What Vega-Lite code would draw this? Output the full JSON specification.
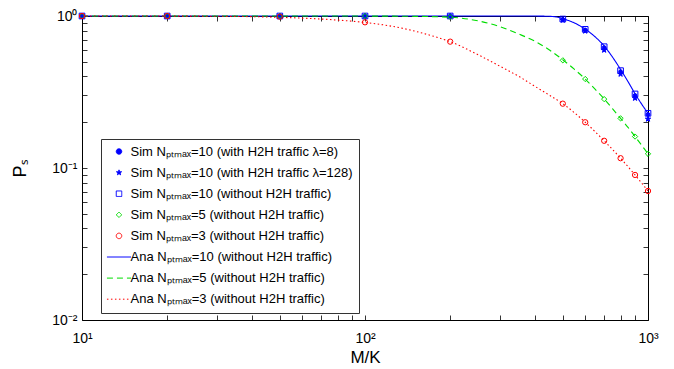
{
  "$schema": "https://vega.github.io/schema/vega-lite/v6.json",
  "width": 566,
  "height": 304,
  "autosize": {"type": "none"},
  "padding": {"left": 82, "top": 16, "right": 26, "bottom": 49},
  "background": "white",
  "config": {
    "view": {"stroke": "black", "strokeWidth": 1},
    "font": "Liberation Sans",
    "axis": {"labelFont": "Liberation Sans", "titleFont": "Liberation Sans", "labelColor": "black", "titleColor": "black", "tickColor": "black", "tickWidth": 0.8, "grid": false, "titleFontWeight": "normal"}
  },
  "datasets": {
    "ana": [
      {"x": 10, "y": 1, "s": "Ana Nₚₜₘₐₓ=10 (without H2H traffic)"},
      {"x": 50, "y": 1, "s": "Ana Nₚₜₘₐₓ=10 (without H2H traffic)"},
      {"x": 100, "y": 1, "s": "Ana Nₚₜₘₐₓ=10 (without H2H traffic)"},
      {"x": 200, "y": 1, "s": "Ana Nₚₜₘₐₓ=10 (without H2H traffic)"},
      {"x": 300, "y": 1, "s": "Ana Nₚₜₘₐₓ=10 (without H2H traffic)"},
      {"x": 400, "y": 0.999, "s": "Ana Nₚₜₘₐₓ=10 (without H2H traffic)"},
      {"x": 450, "y": 0.995, "s": "Ana Nₚₜₘₐₓ=10 (without H2H traffic)"},
      {"x": 480, "y": 0.982, "s": "Ana Nₚₜₘₐₓ=10 (without H2H traffic)"},
      {"x": 500, "y": 0.96, "s": "Ana Nₚₜₘₐₓ=10 (without H2H traffic)"},
      {"x": 550, "y": 0.9, "s": "Ana Nₚₜₘₐₓ=10 (without H2H traffic)"},
      {"x": 600, "y": 0.82, "s": "Ana Nₚₜₘₐₓ=10 (without H2H traffic)"},
      {"x": 650, "y": 0.73, "s": "Ana Nₚₜₘₐₓ=10 (without H2H traffic)"},
      {"x": 700, "y": 0.635, "s": "Ana Nₚₜₘₐₓ=10 (without H2H traffic)"},
      {"x": 750, "y": 0.535, "s": "Ana Nₚₜₘₐₓ=10 (without H2H traffic)"},
      {"x": 800, "y": 0.445, "s": "Ana Nₚₜₘₐₓ=10 (without H2H traffic)"},
      {"x": 850, "y": 0.37, "s": "Ana Nₚₜₘₐₓ=10 (without H2H traffic)"},
      {"x": 900, "y": 0.308, "s": "Ana Nₚₜₘₐₓ=10 (without H2H traffic)"},
      {"x": 950, "y": 0.263, "s": "Ana Nₚₜₘₐₓ=10 (without H2H traffic)"},
      {"x": 1000, "y": 0.229, "s": "Ana Nₚₜₘₐₓ=10 (without H2H traffic)"},
      {"x": 10, "y": 1, "s": "Ana Nₚₜₘₐₓ=5 (without H2H traffic)"},
      {"x": 50, "y": 1, "s": "Ana Nₚₜₘₐₓ=5 (without H2H traffic)"},
      {"x": 100, "y": 0.999, "s": "Ana Nₚₜₘₐₓ=5 (without H2H traffic)"},
      {"x": 150, "y": 0.995, "s": "Ana Nₚₜₘₐₓ=5 (without H2H traffic)"},
      {"x": 200, "y": 0.982, "s": "Ana Nₚₜₘₐₓ=5 (without H2H traffic)"},
      {"x": 250, "y": 0.93, "s": "Ana Nₚₜₘₐₓ=5 (without H2H traffic)"},
      {"x": 300, "y": 0.85, "s": "Ana Nₚₜₘₐₓ=5 (without H2H traffic)"},
      {"x": 350, "y": 0.76, "s": "Ana Nₚₜₘₐₓ=5 (without H2H traffic)"},
      {"x": 400, "y": 0.68, "s": "Ana Nₚₜₘₐₓ=5 (without H2H traffic)"},
      {"x": 450, "y": 0.595, "s": "Ana Nₚₜₘₐₓ=5 (without H2H traffic)"},
      {"x": 500, "y": 0.515, "s": "Ana Nₚₜₘₐₓ=5 (without H2H traffic)"},
      {"x": 550, "y": 0.445, "s": "Ana Nₚₜₘₐₓ=5 (without H2H traffic)"},
      {"x": 600, "y": 0.385, "s": "Ana Nₚₜₘₐₓ=5 (without H2H traffic)"},
      {"x": 650, "y": 0.33, "s": "Ana Nₚₜₘₐₓ=5 (without H2H traffic)"},
      {"x": 700, "y": 0.285, "s": "Ana Nₚₜₘₐₓ=5 (without H2H traffic)"},
      {"x": 750, "y": 0.245, "s": "Ana Nₚₜₘₐₓ=5 (without H2H traffic)"},
      {"x": 800, "y": 0.212, "s": "Ana Nₚₜₘₐₓ=5 (without H2H traffic)"},
      {"x": 850, "y": 0.185, "s": "Ana Nₚₜₘₐₓ=5 (without H2H traffic)"},
      {"x": 900, "y": 0.161, "s": "Ana Nₚₜₘₐₓ=5 (without H2H traffic)"},
      {"x": 950, "y": 0.141, "s": "Ana Nₚₜₘₐₓ=5 (without H2H traffic)"},
      {"x": 1000, "y": 0.124, "s": "Ana Nₚₜₘₐₓ=5 (without H2H traffic)"},
      {"x": 10, "y": 1, "s": "Ana Nₚₜₘₐₓ=3 (without H2H traffic)"},
      {"x": 20, "y": 0.999, "s": "Ana Nₚₜₘₐₓ=3 (without H2H traffic)"},
      {"x": 30, "y": 0.996, "s": "Ana Nₚₜₘₐₓ=3 (without H2H traffic)"},
      {"x": 40, "y": 0.99, "s": "Ana Nₚₜₘₐₓ=3 (without H2H traffic)"},
      {"x": 50, "y": 0.98, "s": "Ana Nₚₜₘₐₓ=3 (without H2H traffic)"},
      {"x": 60, "y": 0.968, "s": "Ana Nₚₜₘₐₓ=3 (without H2H traffic)"},
      {"x": 70, "y": 0.955, "s": "Ana Nₚₜₘₐₓ=3 (without H2H traffic)"},
      {"x": 80, "y": 0.94, "s": "Ana Nₚₜₘₐₓ=3 (without H2H traffic)"},
      {"x": 90, "y": 0.924, "s": "Ana Nₚₜₘₐₓ=3 (without H2H traffic)"},
      {"x": 100, "y": 0.906, "s": "Ana Nₚₜₘₐₓ=3 (without H2H traffic)"},
      {"x": 125, "y": 0.855, "s": "Ana Nₚₜₘₐₓ=3 (without H2H traffic)"},
      {"x": 150, "y": 0.795, "s": "Ana Nₚₜₘₐₓ=3 (without H2H traffic)"},
      {"x": 175, "y": 0.735, "s": "Ana Nₚₜₘₐₓ=3 (without H2H traffic)"},
      {"x": 200, "y": 0.678, "s": "Ana Nₚₜₘₐₓ=3 (without H2H traffic)"},
      {"x": 250, "y": 0.558, "s": "Ana Nₚₜₘₐₓ=3 (without H2H traffic)"},
      {"x": 300, "y": 0.467, "s": "Ana Nₚₜₘₐₓ=3 (without H2H traffic)"},
      {"x": 350, "y": 0.4, "s": "Ana Nₚₜₘₐₓ=3 (without H2H traffic)"},
      {"x": 400, "y": 0.343, "s": "Ana Nₚₜₘₐₓ=3 (without H2H traffic)"},
      {"x": 450, "y": 0.3, "s": "Ana Nₚₜₘₐₓ=3 (without H2H traffic)"},
      {"x": 500, "y": 0.265, "s": "Ana Nₚₜₘₐₓ=3 (without H2H traffic)"},
      {"x": 600, "y": 0.2, "s": "Ana Nₚₜₘₐₓ=3 (without H2H traffic)"},
      {"x": 700, "y": 0.151, "s": "Ana Nₚₜₘₐₓ=3 (without H2H traffic)"},
      {"x": 800, "y": 0.116, "s": "Ana Nₚₜₘₐₓ=3 (without H2H traffic)"},
      {"x": 900, "y": 0.09, "s": "Ana Nₚₜₘₐₓ=3 (without H2H traffic)"},
      {"x": 1000, "y": 0.0706, "s": "Ana Nₚₜₘₐₓ=3 (without H2H traffic)"}
    ],
    "simdot": [
      {"x": 10, "y": 1, "s": "Sim Nₚₜₘₐₓ=10 (with H2H traffic λ=8)"},
      {"x": 20, "y": 1, "s": "Sim Nₚₜₘₐₓ=10 (with H2H traffic λ=8)"},
      {"x": 50, "y": 1, "s": "Sim Nₚₜₘₐₓ=10 (with H2H traffic λ=8)"},
      {"x": 100, "y": 1, "s": "Sim Nₚₜₘₐₓ=10 (with H2H traffic λ=8)"},
      {"x": 200, "y": 1, "s": "Sim Nₚₜₘₐₓ=10 (with H2H traffic λ=8)"},
      {"x": 500, "y": 0.95, "s": "Sim Nₚₜₘₐₓ=10 (with H2H traffic λ=8)"},
      {"x": 600, "y": 0.81, "s": "Sim Nₚₜₘₐₓ=10 (with H2H traffic λ=8)"},
      {"x": 700, "y": 0.62, "s": "Sim Nₚₜₘₐₓ=10 (with H2H traffic λ=8)"},
      {"x": 800, "y": 0.43, "s": "Sim Nₚₜₘₐₓ=10 (with H2H traffic λ=8)"},
      {"x": 900, "y": 0.3, "s": "Sim Nₚₜₘₐₓ=10 (with H2H traffic λ=8)"},
      {"x": 1000, "y": 0.225, "s": "Sim Nₚₜₘₐₓ=10 (with H2H traffic λ=8)"}
    ],
    "simblue": [
      {"x": 10, "y": 1, "s": "Sim Nₚₜₘₐₓ=10 (with H2H traffic λ=128)"},
      {"x": 20, "y": 1, "s": "Sim Nₚₜₘₐₓ=10 (with H2H traffic λ=128)"},
      {"x": 50, "y": 1, "s": "Sim Nₚₜₘₐₓ=10 (with H2H traffic λ=128)"},
      {"x": 100, "y": 1, "s": "Sim Nₚₜₘₐₓ=10 (with H2H traffic λ=128)"},
      {"x": 200, "y": 1, "s": "Sim Nₚₜₘₐₓ=10 (with H2H traffic λ=128)"},
      {"x": 500, "y": 0.94, "s": "Sim Nₚₜₘₐₓ=10 (with H2H traffic λ=128)"},
      {"x": 600, "y": 0.797, "s": "Sim Nₚₜₘₐₓ=10 (with H2H traffic λ=128)"},
      {"x": 700, "y": 0.597, "s": "Sim Nₚₜₘₐₓ=10 (with H2H traffic λ=128)"},
      {"x": 800, "y": 0.415, "s": "Sim Nₚₜₘₐₓ=10 (with H2H traffic λ=128)"},
      {"x": 900, "y": 0.288, "s": "Sim Nₚₜₘₐₓ=10 (with H2H traffic λ=128)"},
      {"x": 1000, "y": 0.21, "s": "Sim Nₚₜₘₐₓ=10 (with H2H traffic λ=128)"},
      {"x": 10, "y": 1, "s": "Sim Nₚₜₘₐₓ=10 (without H2H traffic)"},
      {"x": 20, "y": 1, "s": "Sim Nₚₜₘₐₓ=10 (without H2H traffic)"},
      {"x": 50, "y": 1, "s": "Sim Nₚₜₘₐₓ=10 (without H2H traffic)"},
      {"x": 100, "y": 1, "s": "Sim Nₚₜₘₐₓ=10 (without H2H traffic)"},
      {"x": 200, "y": 1, "s": "Sim Nₚₜₘₐₓ=10 (without H2H traffic)"},
      {"x": 500, "y": 0.955, "s": "Sim Nₚₜₘₐₓ=10 (without H2H traffic)"},
      {"x": 600, "y": 0.817, "s": "Sim Nₚₜₘₐₓ=10 (without H2H traffic)"},
      {"x": 700, "y": 0.628, "s": "Sim Nₚₜₘₐₓ=10 (without H2H traffic)"},
      {"x": 800, "y": 0.437, "s": "Sim Nₚₜₘₐₓ=10 (without H2H traffic)"},
      {"x": 900, "y": 0.307, "s": "Sim Nₚₜₘₐₓ=10 (without H2H traffic)"},
      {"x": 1000, "y": 0.229, "s": "Sim Nₚₜₘₐₓ=10 (without H2H traffic)"}
    ],
    "simgr": [
      {"x": 10, "y": 1, "s": "Sim Nₚₜₘₐₓ=5 (without H2H traffic)"},
      {"x": 20, "y": 1, "s": "Sim Nₚₜₘₐₓ=5 (without H2H traffic)"},
      {"x": 50, "y": 1, "s": "Sim Nₚₜₘₐₓ=5 (without H2H traffic)"},
      {"x": 100, "y": 1, "s": "Sim Nₚₜₘₐₓ=5 (without H2H traffic)"},
      {"x": 200, "y": 0.985, "s": "Sim Nₚₜₘₐₓ=5 (without H2H traffic)"},
      {"x": 500, "y": 0.511, "s": "Sim Nₚₜₘₐₓ=5 (without H2H traffic)"},
      {"x": 600, "y": 0.385, "s": "Sim Nₚₜₘₐₓ=5 (without H2H traffic)"},
      {"x": 700, "y": 0.284, "s": "Sim Nₚₜₘₐₓ=5 (without H2H traffic)"},
      {"x": 800, "y": 0.212, "s": "Sim Nₚₜₘₐₓ=5 (without H2H traffic)"},
      {"x": 900, "y": 0.161, "s": "Sim Nₚₜₘₐₓ=5 (without H2H traffic)"},
      {"x": 1000, "y": 0.124, "s": "Sim Nₚₜₘₐₓ=5 (without H2H traffic)"},
      {"x": 10, "y": 1, "s": "Sim Nₚₜₘₐₓ=3 (without H2H traffic)"},
      {"x": 20, "y": 1, "s": "Sim Nₚₜₘₐₓ=3 (without H2H traffic)"},
      {"x": 50, "y": 0.99, "s": "Sim Nₚₜₘₐₓ=3 (without H2H traffic)"},
      {"x": 100, "y": 0.909, "s": "Sim Nₚₜₘₐₓ=3 (without H2H traffic)"},
      {"x": 200, "y": 0.678, "s": "Sim Nₚₜₘₐₓ=3 (without H2H traffic)"},
      {"x": 500, "y": 0.265, "s": "Sim Nₚₜₘₐₓ=3 (without H2H traffic)"},
      {"x": 600, "y": 0.2, "s": "Sim Nₚₜₘₐₓ=3 (without H2H traffic)"},
      {"x": 700, "y": 0.151, "s": "Sim Nₚₜₘₐₓ=3 (without H2H traffic)"},
      {"x": 800, "y": 0.116, "s": "Sim Nₚₜₘₐₓ=3 (without H2H traffic)"},
      {"x": 900, "y": 0.09, "s": "Sim Nₚₜₘₐₓ=3 (without H2H traffic)"},
      {"x": 1000, "y": 0.0706, "s": "Sim Nₚₜₘₐₓ=3 (without H2H traffic)"}
    ]
  },
  "resolve": {"axis": {"x": "independent", "y": "independent"}},
  "layer": [
    {
      "data": {"name": "ana"},
      "mark": {"type": "line", "strokeWidth": 1.1, "interpolate": "monotone"},
      "encoding": {
        "x": {"field": "x", "type": "quantitative", "scale": {"type": "log", "domain": [10, 1000], "nice": false},
          "axis": {"orient": "bottom", "values": [10, 100, 1000], "ticks": false, "domain": false, "labelFlush": false, "labelOverlap": false,
            "labelExpr": "datum.value == 10 ? '10¹' : datum.value == 100 ? '10²' : datum.value == 1000 ? '10³' : ''",
            "labelFontSize": 14, "labelPadding": 22, "labelBaseline": "alphabetic", "labelAlign": "center", "labelDx": -4,
            "title": "M/K", "titleFontSize": 17, "titleY": 42, "titleBaseline": "alphabetic"}},
        "y": {"field": "y", "type": "quantitative", "scale": {"type": "log", "domain": [0.01, 1], "nice": false},
          "axis": {"orient": "left", "values": [0.01, 0.1, 1], "ticks": false, "domain": false, "labelFlush": false, "labelOverlap": false,
            "labelExpr": "datum.value == 1 ? '10⁰' : datum.value == 0.1 ? '10⁻¹' : datum.value == 0.01 ? '10⁻²' : ''",
            "labelFontSize": 14, "labelPadding": 5, "labelBaseline": "middle", "labelAlign": "right",
            "title": "Pₛ", "titleFontSize": 18, "titleAngle": 270, "titleX": -62, "titleY": 152, "titleBaseline": "middle", "titleAlign": "center"}},
        "stroke": {"field": "s", "type": "nominal",
          "scale": {"domain": ["Sim Nₚₜₘₐₓ=10 (with H2H traffic λ=8)", "Sim Nₚₜₘₐₓ=10 (with H2H traffic λ=128)", "Sim Nₚₜₘₐₓ=10 (without H2H traffic)", "Sim Nₚₜₘₐₓ=5 (without H2H traffic)", "Sim Nₚₜₘₐₓ=3 (without H2H traffic)", "Ana Nₚₜₘₐₓ=10 (without H2H traffic)", "Ana Nₚₜₘₐₓ=5 (without H2H traffic)", "Ana Nₚₜₘₐₓ=3 (without H2H traffic)"],
            "range": ["#0000ff", "#0000ff", "#0000ff", "#00dd00", "#ff0000", "#0000ff", "#00dd00", "#ff0000"]}},
        "strokeDash": {"field": "s", "type": "nominal", "legend": null,
          "scale": {"domain": ["Sim Nₚₜₘₐₓ=10 (with H2H traffic λ=8)", "Sim Nₚₜₘₐₓ=10 (with H2H traffic λ=128)", "Sim Nₚₜₘₐₓ=10 (without H2H traffic)", "Sim Nₚₜₘₐₓ=5 (without H2H traffic)", "Sim Nₚₜₘₐₓ=3 (without H2H traffic)", "Ana Nₚₜₘₐₓ=10 (without H2H traffic)", "Ana Nₚₜₘₐₓ=5 (without H2H traffic)", "Ana Nₚₜₘₐₓ=3 (without H2H traffic)"],
            "range": [[1, 0], [1, 0], [1, 0], [1, 0], [1, 0], [1, 0], [6, 4], [1.5, 2.5]]}}
      }
    },
    {
      "data": {"name": "simdot"},
      "mark": {"type": "point", "size": 14, "strokeWidth": 1, "opacity": 1},
      "encoding": {
        "x": {"field": "x", "type": "quantitative",
          "axis": {"orient": "bottom", "values": [10, 20, 30, 40, 50, 60, 70, 80, 90, 100, 200, 300, 400, 500, 600, 700, 800, 900, 1000], "labels": false, "domain": false, "offset": -5, "tickSize": 5, "title": null}},
        "y": {"field": "y", "type": "quantitative",
          "axis": {"orient": "left", "values": [0.01, 0.02, 0.03, 0.04, 0.05, 0.06, 0.07, 0.08, 0.09, 0.1, 0.2, 0.3, 0.4, 0.5, 0.6, 0.7, 0.8, 0.9, 1], "labels": false, "domain": false, "offset": -5, "tickSize": 5, "title": null}},
        "stroke": {"field": "s", "type": "nominal",
          "legend": {"orient": "none", "legendX": 19, "legendY": 123, "title": null, "padding": 6, "rowPadding": 7.1, "symbolOffset": 5.5, "labelOffset": 5,
            "labelFont": "Liberation Sans", "labelFontSize": 13, "labelColor": "black", "labelLimit": 500, "fillColor": "white", "strokeColor": "#333333", "symbolSize": 30, "symbolStrokeWidth": 1, "symbolType": "circle",
            "encode": {"symbols": {
              "shape": {"value": {"expr": "scale('shape', datum.value)"}},
              "fill": {"value": {"expr": "scale('fill', datum.value)"}},
              "stroke": {"value": {"expr": "scale('stroke', datum.value)"}},
              "strokeDash": {"value": {"expr": "scale('strokeDash', datum.value)"}},
              "strokeWidth": {"value": 1},
              "opacity": {"value": 1},
              "fillOpacity": {"value": 1},
              "strokeOpacity": {"value": 1}
            }}}},
        "fill": {"field": "s", "type": "nominal", "legend": null,
          "scale": {"domain": ["Sim Nₚₜₘₐₓ=10 (with H2H traffic λ=8)", "Sim Nₚₜₘₐₓ=10 (with H2H traffic λ=128)", "Sim Nₚₜₘₐₓ=10 (without H2H traffic)", "Sim Nₚₜₘₐₓ=5 (without H2H traffic)", "Sim Nₚₜₘₐₓ=3 (without H2H traffic)", "Ana Nₚₜₘₐₓ=10 (without H2H traffic)", "Ana Nₚₜₘₐₓ=5 (without H2H traffic)", "Ana Nₚₜₘₐₓ=3 (without H2H traffic)"],
            "range": ["#0000ff", "#0000ff", "transparent", "transparent", "transparent", "transparent", "transparent", "transparent"]}},
        "shape": {"field": "s", "type": "nominal", "legend": null,
          "scale": {"domain": ["Sim Nₚₜₘₐₓ=10 (with H2H traffic λ=8)", "Sim Nₚₜₘₐₓ=10 (with H2H traffic λ=128)", "Sim Nₚₜₘₐₓ=10 (without H2H traffic)", "Sim Nₚₜₘₐₓ=5 (without H2H traffic)", "Sim Nₚₜₘₐₓ=3 (without H2H traffic)", "Ana Nₚₜₘₐₓ=10 (without H2H traffic)", "Ana Nₚₜₘₐₓ=5 (without H2H traffic)", "Ana Nₚₜₘₐₓ=3 (without H2H traffic)"],
            "range": ["circle", "M0,-1L0.235,-0.324L0.951,-0.309L0.38,0.124L0.588,0.809L0,0.4L-0.588,0.809L-0.38,0.124L-0.951,-0.309L-0.235,-0.324Z", "square", "diamond", "circle", "M-4.4,0H4.4", "M-4.4,0H4.4", "M-4.4,0H4.4"]}}
      }
    },
    {
      "data": {"name": "simblue"},
      "mark": {"type": "point", "size": 32, "strokeWidth": 1, "opacity": 1},
      "encoding": {
        "x": {"field": "x", "type": "quantitative",
          "axis": {"orient": "top", "values": [10, 20, 30, 40, 50, 60, 70, 80, 90, 100, 200, 300, 400, 500, 600, 700, 800, 900, 1000], "labels": false, "domain": false, "offset": -5, "tickSize": 5, "title": null}},
        "y": {"field": "y", "type": "quantitative",
          "axis": {"orient": "right", "values": [0.01, 0.02, 0.03, 0.04, 0.05, 0.06, 0.07, 0.08, 0.09, 0.1, 0.2, 0.3, 0.4, 0.5, 0.6, 0.7, 0.8, 0.9, 1], "labels": false, "domain": false, "offset": -5, "tickSize": 5, "title": null}},
        "stroke": {"field": "s", "type": "nominal"},
        "fill": {"field": "s", "type": "nominal", "legend": null},
        "shape": {"field": "s", "type": "nominal", "legend": null}
      }
    },
    {
      "data": {"name": "simgr"},
      "mark": {"type": "point", "size": 28, "strokeWidth": 1, "opacity": 1},
      "encoding": {
        "x": {"field": "x", "type": "quantitative", "axis": null},
        "y": {"field": "y", "type": "quantitative", "axis": null},
        "stroke": {"field": "s", "type": "nominal"},
        "fill": {"field": "s", "type": "nominal", "legend": null},
        "shape": {"field": "s", "type": "nominal", "legend": null}
      }
    }
  ]
}
